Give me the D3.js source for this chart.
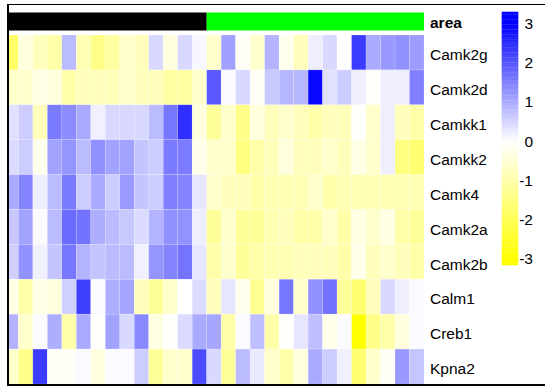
<!DOCTYPE html>
<html>
<head>
<meta charset="utf-8">
<script src="https://cdn.jsdelivr.net/npm/d3@7"></script>
<style>
  body { margin: 0; background: #fff; }
  svg { display: block; }
  text { font-family: "Liberation Sans", Arial, sans-serif; fill: #000; }
</style>
</head>
<body>
<svg id="chart" width="545" height="386"></svg>
<script>
// Genes, top to bottom
const genes = ["Camk2g", "Camk2d", "Camkk1", "Camkk2", "Camk4", "Camk2a", "Camk2b", "Calm1", "Creb1", "Kpna2"];

// Sample annotation ("area") for each of the 29 columns
const area = ["a1","a1","a1","a1","a1","a1","a1","a1","a1","a1","a1","a1","a1","a1",
              "a2","a2","a2","a2","a2","a2","a2","a2","a2","a2","a2","a2","a2","a2","a2"];
const areaColors = { a1: "#000000", a2: "#00ff00" };

// Scaled expression per gene (one value per column)
const camk2g = [-1.8,-0.4,-0.8,-1.0,0.8,-0.9,-1.4,-1.1,-0.6,-0.8,0.45,-0.4,0.45,0.1,-0.6,1.12,-0.1,-0.6,0.9,-0.2,-0.8,0.2,0.45,0.0,2.3,1.0,1.2,1.3,1.15];
const camk2d = [-0.6,-0.6,-0.3,-0.4,-1.0,-0.8,-0.8,-0.8,-0.6,-0.8,-0.8,-1.1,-1.1,-0.6,1.95,0.05,0.45,-0.1,0.65,0.85,0.85,2.9,0.35,0.6,0.2,-0.05,0.2,0.2,1.5];
const camkk1 = [0.35,0.6,-0.8,1.55,1.35,1.0,0.18,0.45,0.45,0.45,0.8,1.6,2.45,-0.4,-1.2,-0.6,-1.4,-0.4,-0.8,-0.6,-0.8,-1.0,-0.8,-0.8,-0.05,-0.6,0.2,-0.8,-1.0];
const camkk2 = [0.42,0.6,-0.2,1.1,1.25,0.8,1.3,1.1,1.1,0.7,0.6,1.55,1.55,-0.25,-0.6,-0.6,-1.5,-1.0,-0.8,-0.4,-0.8,-0.8,-0.6,-0.8,-0.3,-0.6,0.2,-1.5,-1.7];
const camk4  = [1.0,1.45,0.2,0.8,1.55,0.6,1.0,0.6,1.2,0.7,0.6,1.5,1.45,0.3,-0.6,-0.8,-0.8,-1.0,-0.9,-0.9,-0.9,-0.6,-1.0,-0.9,-0.9,-0.9,-0.9,-0.9,-0.9];
const camk2a = [0.65,1.1,0.05,0.8,1.75,1.65,0.95,0.8,0.65,0.42,0.9,1.3,1.3,0.2,-1.2,-0.6,-1.2,-1.2,-0.9,-0.8,-1.0,-1.0,-0.6,-1.0,-0.35,-0.6,-0.35,-1.0,-1.2];
const camk2b = [0.55,1.3,0.18,0.7,1.6,0.9,0.7,0.8,0.8,0.18,1.25,1.45,1.65,0.3,-1.0,-0.6,-1.2,-1.0,-0.9,-0.9,-0.8,-0.8,-0.8,-1.0,-0.25,-0.8,-0.6,-0.8,-1.0];
const calm1  = [-0.3,-1.0,-0.3,-0.4,0.55,2.25,0.05,0.95,1.05,-0.8,-1.2,-0.6,0.0,0.42,-0.8,0.3,-0.2,-1.3,-0.4,1.6,-0.6,1.3,1.65,-1.2,-1.7,-0.8,0.45,0.2,0.05];
const creb1  = [0.9,-0.6,0.05,0.95,-1.0,1.0,-0.05,1.1,0.45,1.4,-0.35,-0.05,0.42,1.0,1.05,-1.0,0.05,0.75,-1.0,-0.05,0.3,0.75,-0.25,0.05,-3.0,-1.4,-1.0,-0.4,0.05];
const kpna2  = [-0.6,-1.4,2.3,-0.1,-0.1,0.05,-0.4,0.05,0.05,0.6,-1.2,-0.6,-0.6,2.1,0.45,-1.2,0.8,0.25,-0.6,-1.0,-0.4,1.0,0.6,0.18,-1.7,-0.6,-0.1,1.2,0.7];

const legendTicks = [3, 2, 1, 0, -1, -2, -3];

const rowValues = [camk2g, camk2d, camkk1, camkk2, camk4, camk2a, camk2b, calm1, creb1, kpna2];
const cells = [];
genes.forEach((g, r) => rowValues[r].forEach((v, c) => cells.push({ gene: g, col: c, value: v })));

const svg = d3.select("#chart");

const x = d3.scaleBand().domain(d3.range(area.length)).range([3.9, 424]).paddingInner(0);
const y = d3.scaleBand().domain(genes).range([35, 384]).paddingInner(0);
const color = d3.scaleLinear().domain([-3, 0, 3]).range(["#ffff00", "#ffffff", "#0000ff"]).clamp(true);

svg.append("defs").append("clipPath").attr("id", "plotClip")
  .append("rect").attr("x", 8).attr("y", 4).attr("width", 416).attr("height", 380);

const plot = svg.append("g").attr("clip-path", "url(#plotClip)");

// annotation strip: one block per run of equal groups
const runs = [];
area.forEach((g, i) => {
  const last = runs[runs.length - 1];
  if (last && last.group === g) last.end = i; else runs.push({ group: g, start: i, end: i });
});
plot.append("g").selectAll("rect")
  .data(runs)
  .join("rect")
  .attr("x", d => x(d.start))
  .attr("y", 12.5)
  .attr("width", d => x(d.end) + x.bandwidth() - x(d.start))
  .attr("height", 18)
  .attr("fill", d => areaColors[d.group]);

// heatmap cells
plot.append("g").selectAll("rect")
  .data(cells)
  .join("rect")
  .attr("x", d => x(d.col))
  .attr("y", d => y(d.gene))
  .attr("width", x.bandwidth())
  .attr("height", y.bandwidth())
  .attr("fill", d => color(d.value))
  .attr("stroke", "#ffffff")
  .attr("stroke-opacity", 0.25)
  .attr("stroke-width", 0.6);

// annotation name and row labels
svg.append("text")
  .attr("x", 430).attr("y", 22.5)
  .attr("dominant-baseline", "central")
  .attr("font-size", 15.5).attr("font-weight", "bold")
  .text("area");

svg.append("g").selectAll("text")
  .data(genes)
  .join("text")
  .attr("x", 430)
  .attr("y", d => y(d) + y.bandwidth() / 2 + 2.2)
  .attr("dominant-baseline", "central")
  .attr("font-size", 15.5)
  .text(d => d);

// colour legend
const ly = d3.scaleLinear().domain([-3, 3]).range([258.6, 23.6]);
const barTop = 11.7, barBottom = 265, nBands = 100;
const bandH = (barBottom - barTop) / nBands;
svg.append("g").selectAll("rect")
  .data(d3.range(nBands))
  .join("rect")
  .attr("x", 501.7)
  .attr("y", i => barTop + i * bandH)
  .attr("width", 16.6)
  .attr("height", bandH + 0.3)
  .attr("fill", i => color(ly.invert(barTop + (i + 0.5) * bandH)));

svg.append("g").selectAll("text")
  .data(legendTicks)
  .join("text")
  .attr("x", 533)
  .attr("y", d => ly(d))
  .attr("text-anchor", "end")
  .attr("dominant-baseline", "central")
  .attr("font-size", 15.5)
  .text(d => d);

// outer frame
svg.append("line").attr("x1", 7).attr("x2", 545).attr("y1", 4.5).attr("y2", 4.5)
  .attr("stroke", "#000").attr("stroke-width", 1);
svg.append("line").attr("x1", 8).attr("x2", 8).attr("y1", 4).attr("y2", 386)
  .attr("stroke", "#000").attr("stroke-width", 2);
svg.append("line").attr("x1", 7).attr("x2", 545).attr("y1", 385).attr("y2", 385)
  .attr("stroke", "#000").attr("stroke-width", 2);
</script>
</body>
</html>
